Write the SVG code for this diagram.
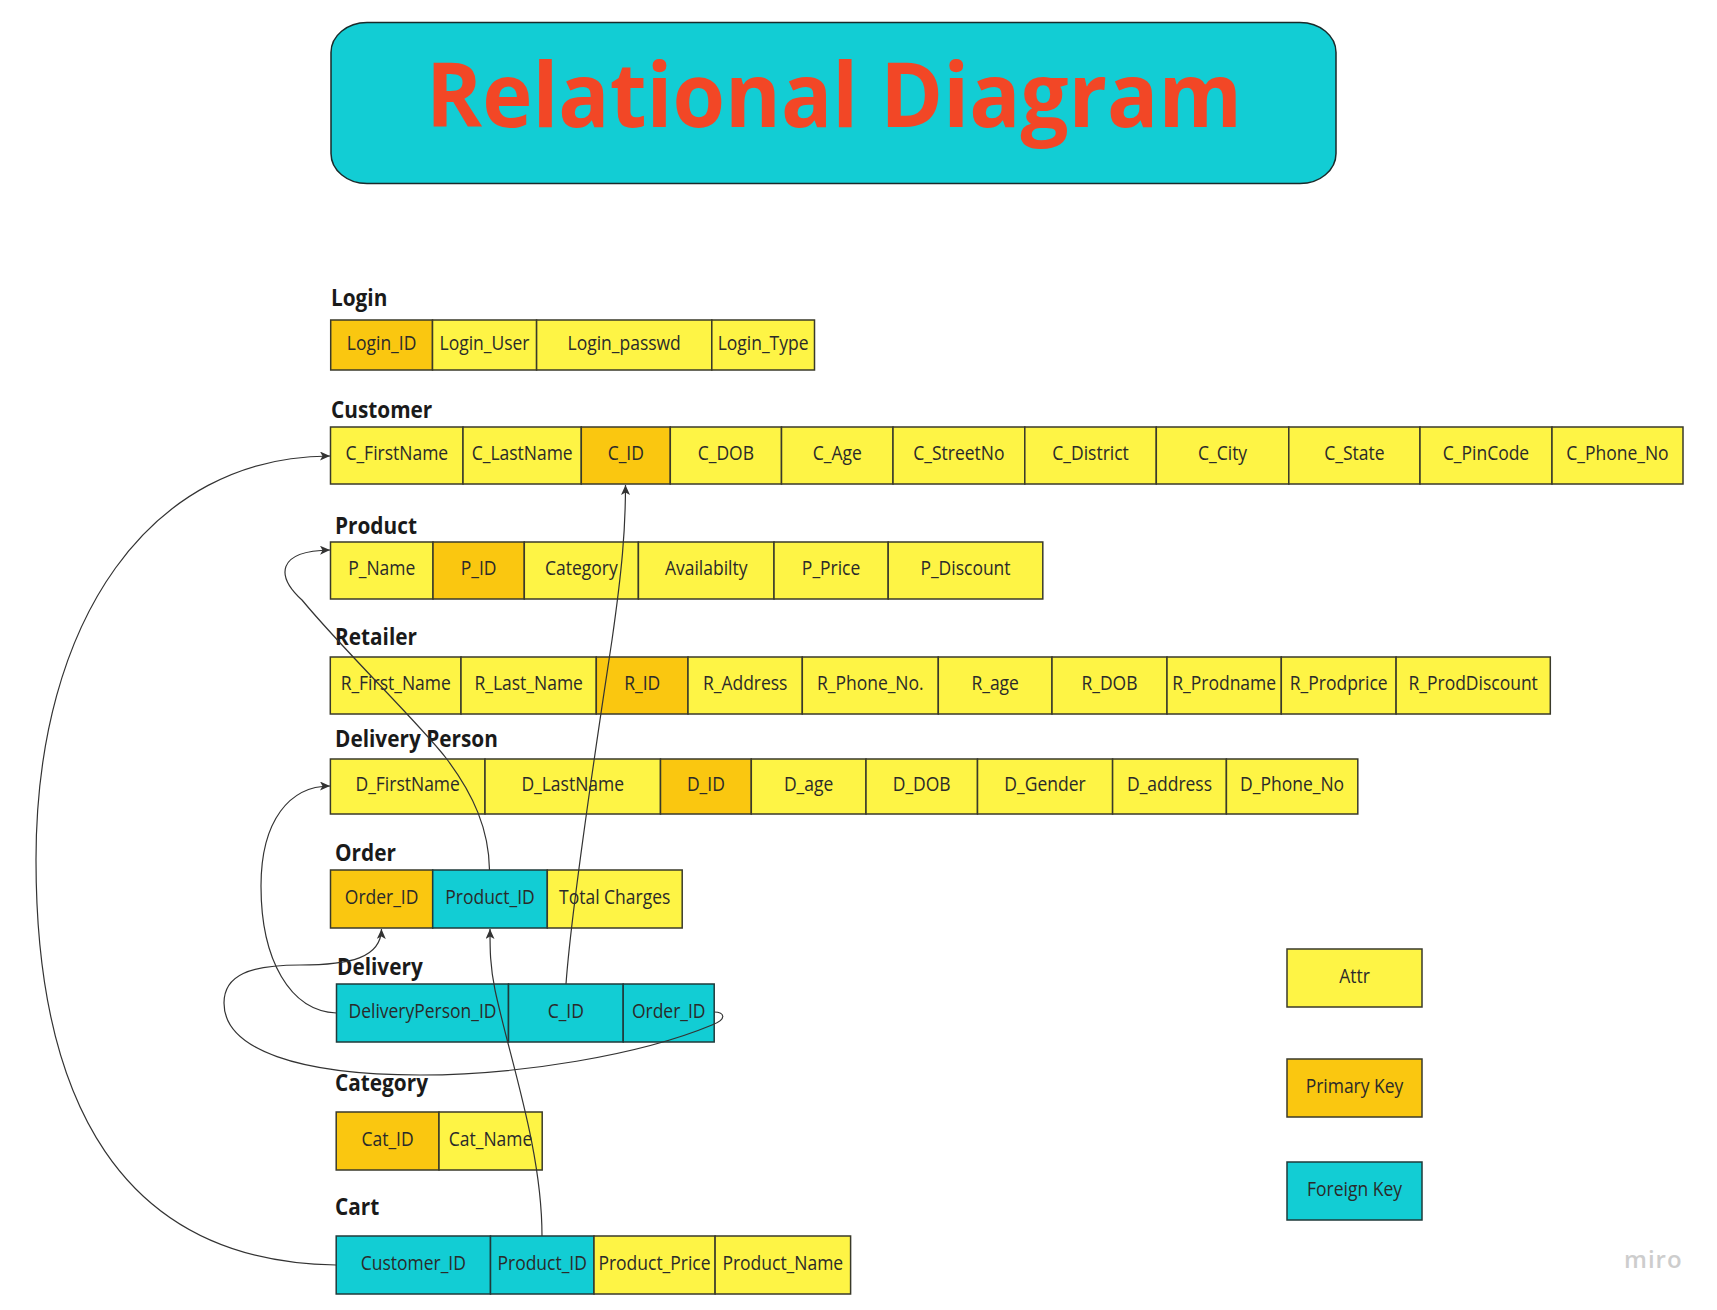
<svg xmlns="http://www.w3.org/2000/svg" width="1717" height="1310" viewBox="0 0 1717 1310">
<defs>
<marker id="arr" markerUnits="userSpaceOnUse" markerWidth="11" markerHeight="10" refX="10" refY="4.5" orient="auto">
<path d="M0,0 L10,4.5 L0,9 L2.5,4.5 z" fill="#333"/>
</marker>
<style>
text{font-family:"Open Sans","Liberation Sans",sans-serif;}
.t{font-size:85px;font-weight:700;fill:#f24726;text-anchor:middle;transform-box:fill-box;transform-origin:center;transform:scaleY(1.06);}
.lb{font-size:20.8px;font-weight:700;fill:#1a1a1a;transform-box:fill-box;transform-origin:center;transform:scaleY(1.1);}
.c{font-size:17.5px;fill:#2a2a2a;text-anchor:middle;transform-box:fill-box;transform-origin:center;transform:scaleY(1.1);}
.a{fill:#fef445;stroke:#3a3a2a;stroke-width:1.5;}
.p{fill:#fac710;stroke:#3a3a2a;stroke-width:1.5;}
.f{fill:#12cdd4;stroke:#1f3a3a;stroke-width:1.5;}
.cn{fill:none;stroke:#333;stroke-width:1.2;}
</style>
</defs>
<rect width="1717" height="1310" fill="#ffffff"/>

<g id="title">
<rect x="331" y="22.5" width="1005" height="161" rx="36" ry="30" fill="#12cdd4" stroke="#1a2a2a" stroke-width="1.5"/>
<text class="t" x="834" y="125">Relational Diagram</text>
</g>

<g id="login">
<text class="lb" x="331" y="305">Login</text>
<rect class="p" x="330.7" y="320" width="101.8" height="50"/><text class="c" x="381.6" y="349">Login_ID</text>
<rect class="a" x="432.5" y="320" width="104.1" height="50"/><text class="c" x="484.5" y="349">Login_User</text>
<rect class="a" x="536.6" y="320" width="175.2" height="50"/><text class="c" x="624.2" y="349">Login_passwd</text>
<rect class="a" x="711.8" y="320" width="102.7" height="50"/><text class="c" x="763.1" y="349">Login_Type</text>
</g>

<g id="customer">
<text class="lb" x="331" y="417.5">Customer</text>
<rect class="a" x="330.5" y="427" width="132.5" height="57"/><text class="c" x="396.8" y="459.5">C_FirstName</text>
<rect class="a" x="463" y="427" width="118.3" height="57"/><text class="c" x="522.2" y="459.5">C_LastName</text>
<rect class="p" x="581.3" y="427" width="89" height="57"/><text class="c" x="625.8" y="459.5">C_ID</text>
<rect class="a" x="670.3" y="427" width="111.2" height="57"/><text class="c" x="725.9" y="459.5">C_DOB</text>
<rect class="a" x="781.5" y="427" width="111.5" height="57"/><text class="c" x="837.3" y="459.5">C_Age</text>
<rect class="a" x="893" y="427" width="131.8" height="57"/><text class="c" x="958.9" y="459.5">C_StreetNo</text>
<rect class="a" x="1024.8" y="427" width="131.5" height="57"/><text class="c" x="1090.6" y="459.5">C_District</text>
<rect class="a" x="1156.3" y="427" width="132.5" height="57"/><text class="c" x="1222.6" y="459.5">C_City</text>
<rect class="a" x="1288.8" y="427" width="131.2" height="57"/><text class="c" x="1354.4" y="459.5">C_State</text>
<rect class="a" x="1420" y="427" width="132" height="57"/><text class="c" x="1486" y="459.5">C_PinCode</text>
<rect class="a" x="1552" y="427" width="131" height="57"/><text class="c" x="1617.5" y="459.5">C_Phone_No</text>
</g>

<g id="product">
<text class="lb" x="335" y="533">Product</text>
<rect class="a" x="330.5" y="542" width="102.5" height="57"/><text class="c" x="381.8" y="574.5">P_Name</text>
<rect class="p" x="433" y="542" width="91.3" height="57"/><text class="c" x="478.7" y="574.5">P_ID</text>
<rect class="a" x="524.3" y="542" width="114.1" height="57"/><text class="c" x="581.4" y="574.5">Category</text>
<rect class="a" x="638.4" y="542" width="135.6" height="57"/><text class="c" x="706.2" y="574.5">Availabilty</text>
<rect class="a" x="774" y="542" width="114.2" height="57"/><text class="c" x="831.1" y="574.5">P_Price</text>
<rect class="a" x="888.2" y="542" width="154.6" height="57"/><text class="c" x="965.5" y="574.5">P_Discount</text>
</g>

<g id="retailer">
<text class="lb" x="335" y="644">Retailer</text>
<rect class="a" x="330.3" y="657" width="130.7" height="57"/><text class="c" x="395.7" y="689.5">R_First_Name</text>
<rect class="a" x="461" y="657" width="135.3" height="57"/><text class="c" x="528.7" y="689.5">R_Last_Name</text>
<rect class="p" x="596.3" y="657" width="91.7" height="57"/><text class="c" x="642.2" y="689.5">R_ID</text>
<rect class="a" x="688" y="657" width="114.3" height="57"/><text class="c" x="745.2" y="689.5">R_Address</text>
<rect class="a" x="802.3" y="657" width="136" height="57"/><text class="c" x="870.3" y="689.5">R_Phone_No.</text>
<rect class="a" x="938.3" y="657" width="113.7" height="57"/><text class="c" x="995.2" y="689.5">R_age</text>
<rect class="a" x="1052" y="657" width="115" height="57"/><text class="c" x="1109.5" y="689.5">R_DOB</text>
<rect class="a" x="1167" y="657" width="114.3" height="57"/><text class="c" x="1224.2" y="689.5">R_Prodname</text>
<rect class="a" x="1281.3" y="657" width="114.8" height="57"/><text class="c" x="1338.7" y="689.5">R_Prodprice</text>
<rect class="a" x="1396.1" y="657" width="154.2" height="57"/><text class="c" x="1473.2" y="689.5">R_ProdDiscount</text>
</g>

<g id="delivery-person">
<text class="lb" x="335" y="746">Delivery Person</text>
<rect class="a" x="330.4" y="759" width="154.6" height="55"/><text class="c" x="407.7" y="790.5">D_FirstName</text>
<rect class="a" x="485" y="759" width="175.5" height="55"/><text class="c" x="572.7" y="790.5">D_LastName</text>
<rect class="p" x="660.5" y="759" width="90.8" height="55"/><text class="c" x="705.9" y="790.5">D_ID</text>
<rect class="a" x="751.3" y="759" width="114.7" height="55"/><text class="c" x="808.6" y="790.5">D_age</text>
<rect class="a" x="866" y="759" width="111.5" height="55"/><text class="c" x="921.7" y="790.5">D_DOB</text>
<rect class="a" x="977.5" y="759" width="135.1" height="55"/><text class="c" x="1045" y="790.5">D_Gender</text>
<rect class="a" x="1112.6" y="759" width="113.8" height="55"/><text class="c" x="1169.5" y="790.5">D_address</text>
<rect class="a" x="1226.4" y="759" width="131.4" height="55"/><text class="c" x="1292.1" y="790.5">D_Phone_No</text>
</g>

<g id="order">
<text class="lb" x="335" y="860">Order</text>
<rect class="p" x="330.5" y="870" width="102.2" height="58"/><text class="c" x="381.6" y="903">Order_ID</text>
<rect class="f" x="432.7" y="870" width="114.6" height="58"/><text class="c" x="490" y="903">Product_ID</text>
<rect class="a" x="547.3" y="870" width="134.9" height="58"/><text class="c" x="614.7" y="903">Total Charges</text>
</g>

<g id="delivery">
<text class="lb" x="337" y="974.5">Delivery</text>
<rect class="f" x="336.5" y="984" width="172" height="58"/><text class="c" x="422.5" y="1017">DeliveryPerson_ID</text>
<rect class="f" x="508.5" y="984" width="114.7" height="58"/><text class="c" x="565.8" y="1017">C_ID</text>
<rect class="f" x="623.2" y="984" width="91" height="58"/><text class="c" x="668.7" y="1017">Order_ID</text>
</g>

<g id="category">
<text class="lb" x="335" y="1090.5">Category</text>
<rect class="p" x="336.2" y="1112" width="102.8" height="58"/><text class="c" x="387.6" y="1145">Cat_ID</text>
<rect class="a" x="439" y="1112" width="103.2" height="58"/><text class="c" x="490.6" y="1145">Cat_Name</text>
</g>

<g id="cart">
<text class="lb" x="335" y="1214">Cart</text>
<rect class="f" x="336.2" y="1236" width="154.3" height="58"/><text class="c" x="413.3" y="1269">Customer_ID</text>
<rect class="f" x="490.5" y="1236" width="103.5" height="58"/><text class="c" x="542.2" y="1269">Product_ID</text>
<rect class="a" x="594" y="1236" width="121.1" height="58"/><text class="c" x="654.5" y="1269">Product_Price</text>
<rect class="a" x="715.1" y="1236" width="135.5" height="58"/><text class="c" x="782.8" y="1269">Product_Name</text>
</g>

<g id="legend-attr">
<rect class="a" x="1287" y="949" width="135" height="58"/><text class="c" x="1354.5" y="982">Attr</text>
</g>
<g id="legend-pk">
<rect class="p" x="1287" y="1059" width="135" height="58"/><text class="c" x="1354.5" y="1092">Primary Key</text>
</g>
<g id="legend-fk">
<rect class="f" x="1287" y="1162" width="135" height="58"/><text class="c" x="1354.5" y="1195">Foreign Key</text>
</g>

<g id="connectors">
<path class="cn" marker-end="url(#arr)" d="M 336 1265 C 120 1262, 36 1100, 36 860 C 36 620, 150 456, 330 456"/>
<path class="cn" marker-end="url(#arr)" d="M 489.5 870 C 489 830, 474 795, 446 758 C 418 722, 345 652, 302 600 C 276 576, 276 551, 330 550"/>
<path class="cn" marker-end="url(#arr)" d="M 336.5 1013 C 290 1011, 261 960, 261 886 C 261 820, 290 786, 330 786"/>
<path class="cn" marker-end="url(#arr)" d="M 714 1012 C 724 1012, 728 1019, 712 1025 C 640 1055, 520 1075, 420 1075 C 300 1075, 224 1050, 224 1003 C 224 975, 250 965, 300 965 C 350 965, 381 958, 381.5 929"/>
<path class="cn" marker-end="url(#arr)" d="M 566 984 C 572 900, 600 720, 612 640 C 622 570, 625.5 530, 625.5 485"/>
<path class="cn" marker-end="url(#arr)" d="M 542 1236 C 542 1150, 510 1060, 495 990 C 490 965, 490 950, 490 929"/>
</g>

<text x="1624" y="1268" font-size="24" font-weight="600" fill="#cdcdcd" letter-spacing="1">miro</text>
</svg>
